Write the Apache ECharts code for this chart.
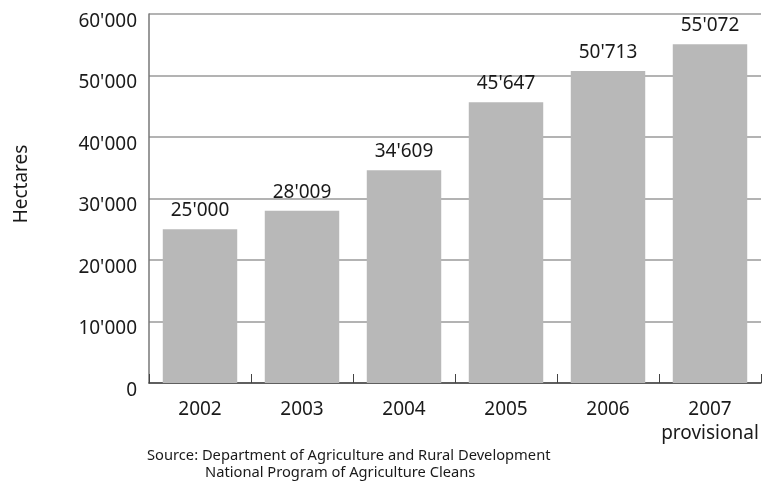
<!DOCTYPE html>
<html>
<head>
<meta charset="utf-8">
<script src="https://cdn.jsdelivr.net/npm/echarts@6/dist/echarts.min.js"></script>
<style>
  html, body { margin: 0; padding: 0; background: #fff; }
  #chart { width: 762px; height: 484px; }
</style>
</head>
<body>
<div id="chart"></div>
<script>
// Agricultural area per year (hectares)
const years = ['2002', '2003', '2004', '2005', '2006', '2007\nprovisional'];
const hectares = [25000, 28009, 34609, 45647, 50713, 55072];
const yTicks = { min: 0, max: 60000, step: 10000 };
const axisTitle = 'Hectares';
const sourceLines = [
  'Source: Department of Agriculture and Rural Development',
  'National Program of Agriculture Cleans'
];

const FONT = '"Noto Sans", "Open Sans", sans-serif';
const TEXT = '#1a1a1a';

// Thousands separator as an apostrophe: 45647 -> 45'647
function fmt(v) {
  return String(Math.round(v)).replace(/\B(?=(\d{3})+(?!\d))/g, "'");
}

const chart = echarts.init(document.getElementById('chart'), null, { renderer: 'canvas' });

chart.setOption({
  animation: false,
  backgroundColor: '#ffffff',
  grid: { left: 149, top: 14, right: 1, bottom: 101 },
  xAxis: {
    type: 'category',
    data: years,
    axisLine: { lineStyle: { color: '#444', width: 1.5 } },
    axisTick: { show: true, inside: true, length: 9, interval: 0, lineStyle: { color: '#444' } },
    axisLabel: {
      interval: 0,
      color: TEXT, fontFamily: FONT, fontSize: 19, margin: 15, lineHeight: 24
    },
    splitLine: { show: false }
  },
  yAxis: {
    type: 'value',
    min: yTicks.min,
    max: yTicks.max,
    interval: yTicks.step,
    axisLine: { show: true, lineStyle: { color: '#777', width: 1.5 } },
    axisTick: { show: false },
    axisLabel: {
      margin: 12,
      formatter: v => '{t|' + fmt(v) + '}',
      rich: {
        t: { color: TEXT, fontFamily: FONT, fontSize: 19, padding: [15, 0, 0, 0] }
      }
    },
    splitLine: { lineStyle: { color: '#9a9a9a', width: 1.5 } }
  },
  series: [{
    type: 'bar',
    data: hectares,
    barCategoryGap: '27%',
    itemStyle: { color: '#b8b8b8' },
    label: {
      show: true,
      position: 'top',
      distance: 9,
      color: TEXT,
      fontFamily: FONT,
      fontSize: 19,
      formatter: p => fmt(p.value)
    }
  }],
  graphic: [
    {
      type: 'text',
      x: 22, y: 184,
      rotation: Math.PI / 2,
      style: {
        text: axisTitle, fill: TEXT, font: '19px ' + FONT,
        textAlign: 'center', textVerticalAlign: 'middle'
      }
    },
    {
      type: 'text',
      left: 147, top: 448,
      style: { text: sourceLines[0], fill: TEXT, font: '14.7px ' + FONT }
    },
    {
      type: 'text',
      left: 205, top: 465,
      style: { text: sourceLines[1], fill: TEXT, font: '14.7px ' + FONT }
    }
  ]
});
</script>
</body>
</html>
